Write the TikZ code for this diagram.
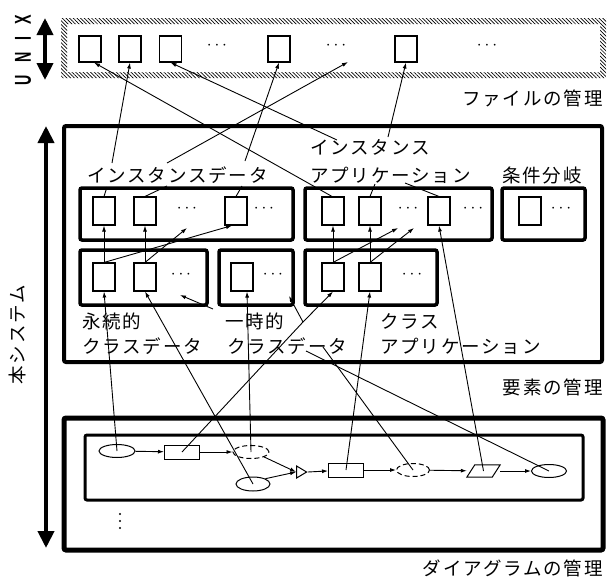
\documentclass[tikz,border=0pt]{standalone}
\usepackage{graphicx}
\usepackage{fontspec}
\newfontfamily\jp[LetterSpace=10]{Noto Sans CJK JP}
\newfontfamily\lat{Liberation Sans}
\usetikzlibrary{arrows.meta,shapes.geometric,patterns.meta}
\newcommand{\nlet}[1]{\scalebox{0.62}[1]{#1}}
\begin{document}
\begin{tikzpicture}[x=1pt,y=-1pt,
  sq/.style={draw,line width=1.1pt,minimum width=22pt,minimum height=28pt,inner sep=0pt,fill=white},
  usq/.style={sq,minimum width=22pt,minimum height=26pt},
  frame/.style={draw,line width=3.5pt,rounded corners=2pt},
  lbl/.style={font=\jp\fontsize{18.5}{18.5}\selectfont,anchor=west,inner sep=0pt},
  rlbl/.style={lbl,anchor=east},
  dotsn/.style={font=\fontsize{16}{16}\selectfont,inner sep=0pt},
  con/.style={line width=0.9pt},
  arr/.style={con,-{Latex[length=6pt,width=4pt]}},
  bigarr/.style={line width=4pt,{Triangle[length=17pt,width=16pt]}-{Triangle[length=17pt,width=16pt]}},
  ell/.style={draw,ellipse,line width=1pt,minimum width=36pt,minimum height=13pt,inner sep=0pt},
  dell/.style={ell,dash pattern=on 5pt off 3pt},
  rct/.style={draw,rectangle,line width=1pt,minimum width=35pt,minimum height=14pt,inner sep=0pt},
  vdot/.style={circle,fill,inner sep=0pt,minimum size=2.4pt},
]
\useasboundingbox (0,0) rectangle (611,581);

% ---------- UNIX ----------
\node[font=\lat\bfseries\fontsize{23}{23}\selectfont,rotate=90,inner sep=0pt] (unixlbl) at (23,50)
  {\nlet{U}\hspace{12pt}\nlet{N}\hspace{12pt}\nlet{I}\hspace{12pt}\nlet{X}};
\coordinate (ua1) at (45,18);
\coordinate (ua2) at (45,80);
\draw[bigarr] (ua1) -- (ua2);
\fill[pattern={Lines[angle=-45,distance=2.6pt,line width=0.7pt]},even odd rule]
  (61,18) rectangle (606,78) (67,24) rectangle (600,72);
\node[usq] (U1) at (90,49) {};
\node[usq] (U2) at (130,49) {};
\node[usq] (U3) at (170.5,49) {};
\node[usq] (U4) at (279,49) {};
\node[usq] (U5) at (406,49) {};
\node[dotsn] (ud1) at (217,46) {$\cdots$};
\node[dotsn] (ud2) at (336,46) {$\cdots$};
\node[dotsn] (ud3) at (487,46) {$\cdots$};
\coordinate (uT) at (348,62);
\node[rlbl] (filelbl) at (603,98) {ファイルの管理};

% ---------- main system ----------
\node[font=\jp\fontsize{18.5}{18.5}\selectfont,rotate=90] (syslbl) at (17,335) {本システム};
\coordinate (sa1) at (46,126);
\coordinate (sa2) at (46,548);
\draw[bigarr] (sa1) -- (sa2);

\draw[frame,line width=4pt] (64,126) rectangle (602,362);
\node[lbl] (instlbl) at (310,147) {インスタンス};
\node[lbl] (applbl) at (310,175) {アプリケーション};
\node[lbl] (idlbl) at (87,175) {インスタンスデータ};
\node[lbl] (condlbl) at (502,175) {条件分岐};

\draw[frame] (80,188) rectangle (293,240);
\draw[frame] (305,188) rectangle (492,240);
\draw[frame] (502,188) rectangle (585,240);
\draw[frame] (80,250) rectangle (207,305);
\draw[frame] (219,250) rectangle (293,305);
\draw[frame] (305,250) rectangle (437,305);

\node[sq] (A1) at (104,211) {};
\node[sq] (A2) at (145,211) {};
\node[sq] (A3) at (236,211) {};
\node[dotsn] (ad1) at (187,209) {$\cdots$};
\node[dotsn] (ad2) at (264,209) {$\cdots$};
\node[sq] (B1) at (333,211) {};
\node[sq] (B2) at (370,211) {};
\node[sq] (B3) at (439,211) {};
\node[dotsn] (bd1) at (408,209) {$\cdots$};
\node[dotsn] (bd2) at (473,209) {$\cdots$};
\node[sq] (C1) at (530,211) {};
\node[dotsn] (cd1) at (561,209) {$\cdots$};

\node[sq] (D1) at (104,277) {};
\node[sq] (D2) at (145,277) {};
\node[dotsn] (dd1) at (181,275) {$\cdots$};
\node[sq] (E1) at (242,277) {};
\node[dotsn] (ed1) at (273,275) {$\cdots$};
\node[sq] (F1) at (333,277) {};
\node[sq] (F2) at (370,277) {};
\node[dotsn] (fd1) at (412,275) {$\cdots$};

\node[lbl] (pc1) at (82,321) {永続的};
\node[lbl] (pc2) at (82,346) {クラスデータ};
\node[lbl] (tc1) at (225,321) {一時的};
\node[lbl] (tc2) at (227,346) {クラスデータ};
\node[lbl] (ca1) at (380,321) {クラス};
\node[lbl] (ca2) at (380,346) {アプリケーション};
\node[rlbl] (elemlbl) at (603,387) {要素の管理};

% ---------- diagram ----------
\draw[frame,line width=5pt] (64,418) rectangle (603,550);
\draw[frame,line width=3pt] (85,435) rectangle (583,500);
\node[vdot] (vd1) at (120,514) {};
\node[vdot] (vd2) at (120,521) {};
\node[vdot] (vd3) at (120,528) {};
\node[rlbl] (diaglbl) at (603,568) {ダイアグラムの管理};

\node[ell] (e1) at (117,451) {};
\node[rct] (r1) at (182,452) {};
\node[dell] (d1) at (251,452) {};
\node[ell,minimum width=34pt,minimum height=14pt] (e2) at (253,484) {};
\node[draw,isosceles triangle,line width=1pt,minimum height=10pt,minimum width=12pt,inner sep=0pt,isosceles triangle stretches] (tri) at (300,472) {};
\node[rct] (r2) at (346,470) {};
\node[dell,minimum width=33pt] (d2) at (413,470) {};
\node[rectangle,minimum width=33pt,minimum height=12pt,inner sep=0pt] (pa) at (483.5,471) {};
\draw[line width=1pt] (pa.south west) -- ([xshift=-8pt]pa.south east) -- (pa.north east) -- ([xshift=8pt]pa.north west) -- cycle;
\node[ell,minimum width=35pt] (e3) at (549,471) {};

\draw[arr] (e1) -- (r1);
\draw[arr] (r1) -- (d1);
\draw[arr] (d1.south east) -- (tri.west);
\draw[arr] (e2.north east) -- (tri.west);
\draw[arr] (tri.east) -- (r2);
\draw[arr] (r2) -- (d2);
\draw[arr] (d2) -- (pa);
\draw[arr] (pa) -- (e3);

% ---------- connectors ----------
\coordinate (pID1) at (112,163);
\coordinate (pID2) at (245,161);
\coordinate (pID3) at (167,163);
\coordinate (pIA1) at (337,140);
\coordinate (pIA2) at (388,137);
\draw[arr] ([xshift=-1pt]B1.north) -- ([xshift=4pt]U1.south);
\draw[arr] (pID1) -- (U2.south);
\draw[arr] (pIA1) -- (U3.south);
\draw[arr] (pID2) -- (U4.south);
\draw[arr] (pID3) -- (uT);
\draw[arr] (pIA2) -- (U5.south);

\coordinate (pA1) at (107,187);
\coordinate (pA2) at (167,186);
\coordinate (pA3) at (242,186);
\coordinate (pB2) at (375,184);
\coordinate (pB3) at (405,183);
\draw[con] (pA1) -- (A1.north);
\draw[con] (pA2) -- (A2.north);
\draw[con] (pA3) -- (A3.north);
\draw[con] (pB2) -- (B2.north);
\draw[con] (pB3) -- (B3.north);

\coordinate (aT) at (187,228);
\coordinate (bT1) at (398,228);
\coordinate (bT2) at (414,228);
\draw[arr] (D1.north) -- (A1.south);
\draw[arr] (D2.north) -- (A2.south);
\draw[arr] (F1.north) -- (B1.south);
\draw[arr] (F2.north) -- (B2.south);
\draw[arr] (D1.north) -- ([xshift=-4pt]A3.south);
\draw[arr] (D2.north) -- (aT);
\draw[arr] (F1.north) -- (bT1);
\draw[arr] (F2.north) -- (bT2);

\coordinate (fork) at (303,322);
\coordinate (eT) at (289,296);
\coordinate (pL1) at (323,347);
\coordinate (pL2) at (306,351);
\coordinate (pDd) at (213,309);
\coordinate (dT) at (180,295);
\draw[arr] (e1.center) -- (D1.south);
\draw[arr] (e2.center) -- (D2.south);
\draw[arr] (d1.center) -- ([xshift=5pt]E1.south);
\draw[con] (r1.center) -- (fork);
\draw[arr] (fork) -- (eT);
\draw[arr] (fork) -- (F1.south);
\draw[arr] (r2.center) -- (F2.south);
\draw[arr] (pa.center) -- (B3.south);
\draw[con] (d2.center) -- (pL1);
\draw[con] (e3.center) -- (pL2);
\draw[arr] (pDd) -- (dT);
\end{tikzpicture}
\end{document}
